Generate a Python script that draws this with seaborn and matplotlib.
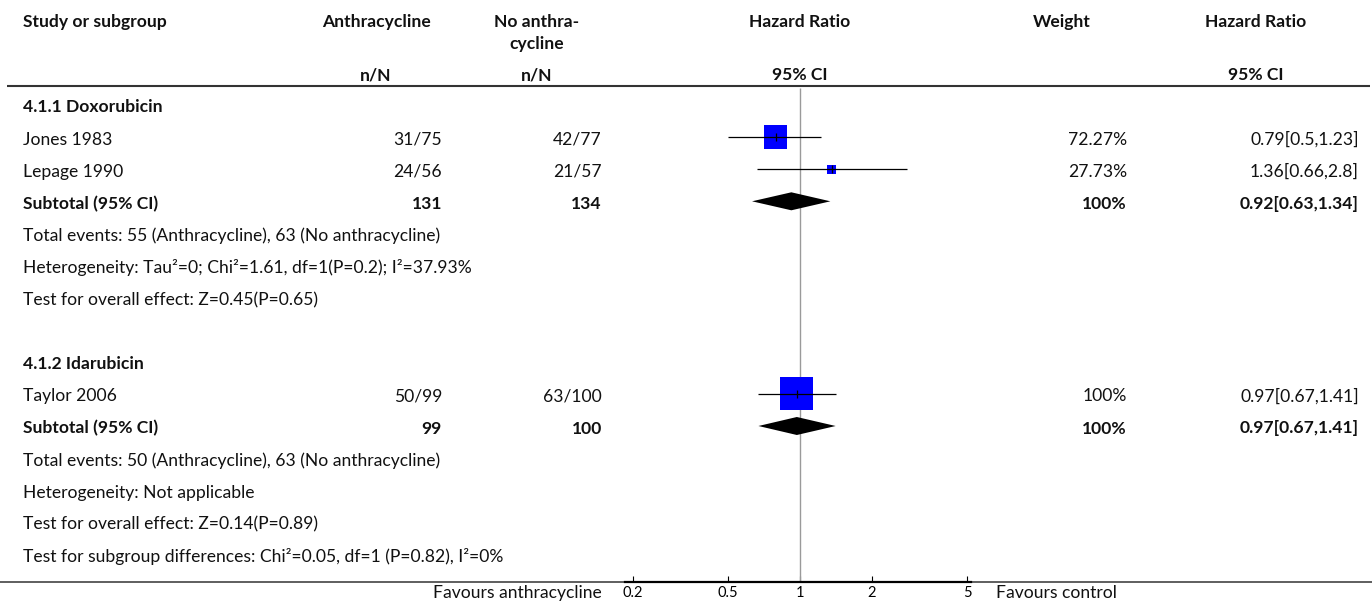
import matplotlib
matplotlib.use("Agg")
import matplotlib.pyplot as plt
import seaborn as sns
import pandas as pd
from matplotlib.ticker import FixedLocator, NullLocator

# study level data
studies = ["Jones 1983", "Lepage 1990", "Taylor 2006"]
study_group = [0, 0, 1]
a_events = [31, 24, 50]
a_total = [75, 56, 99]
c_events = [42, 21, 63]
c_total = [77, 57, 100]
hr = [0.79, 1.36, 0.97]
hr_lo = [0.5, 0.66, 0.67]
hr_hi = [1.23, 2.8, 1.41]
weight = [72.27, 27.73, 100]

# subgroup totals
groups = ["4.1.1 Doxorubicin", "4.1.2 Idarubicin"]
sub_a = [131, 99]
sub_c = [134, 100]
sub_hr = [0.92, 0.97]
sub_lo = [0.63, 0.67]
sub_hi = [1.34, 1.41]
sub_weight = [100, 100]
notes = [
    ["Total events: 55 (Anthracycline), 63 (No anthracycline)",
     "Heterogeneity: Tau\u00b2=0; Chi\u00b2=1.61, df=1(P=0.2); I\u00b2=37.93%",
     "Test for overall effect: Z=0.45(P=0.65)"],
    ["Total events: 50 (Anthracycline), 63 (No anthracycline)",
     "Heterogeneity: Not applicable",
     "Test for overall effect: Z=0.14(P=0.89)"],
]
overall_note = "Test for subgroup differences: Chi\u00b2=0.05, df=1 (P=0.82), I\u00b2=0%"
tick_vals = [0.2, 0.5, 1, 2, 5]
tick_labels = ["0.2", "0.5", "1", "2", "5"]

sns.set_theme(style="white")
plt.rcParams["font.family"] = ["Lato", "DejaVu Sans"]

W, H = 1372, 603
FS = 12.6
TXT = "#111111"

fig = plt.figure(figsize=(W / 100, H / 100), dpi=100)
ax = fig.add_axes([0, 0, 1, 1])
ax.set_xlim(0, W)
ax.set_ylim(H, 0)
ax.axis("off")

# forest axes: log scale, pixel rows shared with ax
x0, x1 = 633, 967
fx = fig.add_axes([x0 / W, 0, (x1 - x0) / W, 1])
fx.set_xscale("log")
fx.set_xlim(0.2, 5)
fx.set_ylim(H, 0)
fx.patch.set_alpha(0)

# column anchors
c_study = 23
c_a, r_a = 376, 442
c_c, r_c = 537, 602
c_fp = 800
c_w, r_w = 1062, 1127
c_hr, r_hr = 1256, 1359


def row_y(i):
    return 105 + 32.1 * i


def txt(x, y, s, ha="left", bold=False, size=FS, off=7.5):
    ax.text(x, y + off, s, ha=ha, va="baseline", fontsize=size,
            fontweight="bold" if bold else "normal", color=TXT)


# header
hb = dict(bold=True, off=0)
txt(c_study, 27, "Study or subgroup", **hb)
txt(c_a, 27, "Anthracycline", ha="center", **hb)
txt(c_c, 27, "No anthra-", ha="center", **hb)
txt(c_c, 49, "cycline", ha="center", **hb)
txt(c_fp, 27, "Hazard Ratio", ha="center", **hb)
txt(c_w, 27, "Weight", ha="center", **hb)
txt(c_hr, 27, "Hazard Ratio", ha="center", **hb)
txt(c_a, 80.5, "n/N", ha="center", **hb)
txt(c_c, 80.5, "n/N", ha="center", **hb)
txt(c_fp, 80.5, "95% CI", ha="center", **hb)
txt(c_hr, 80.5, "95% CI", ha="center", **hb)
ax.plot([7, 1370], [86, 86], color="#333333", lw=1.5, solid_capstyle="butt")

# build row layout
study_rows = []
sub_rows = []
row = 0
for g, name in enumerate(groups):
    txt(c_study, row_y(row), name, bold=True)
    row += 1
    for i, s in enumerate(studies):
        if study_group[i] != g:
            continue
        y = row_y(row)
        study_rows.append(y)
        txt(c_study, y, s)
        txt(r_a, y, f"{a_events[i]}/{a_total[i]}", ha="right")
        txt(r_c, y, f"{c_events[i]}/{c_total[i]}", ha="right")
        txt(r_w, y, f"{weight[i]:g}%", ha="right")
        txt(r_hr, y, f"{hr[i]:g}[{hr_lo[i]:g},{hr_hi[i]:g}]", ha="right")
        row += 1
    y = row_y(row)
    sub_rows.append(y)
    txt(c_study, y, "Subtotal (95% CI)", bold=True)
    txt(r_a, y, f"{sub_a[g]}", ha="right", bold=True)
    txt(r_c, y, f"{sub_c[g]}", ha="right", bold=True)
    txt(r_w, y, f"{sub_weight[g]:g}%", ha="right", bold=True)
    txt(r_hr, y, f"{sub_hr[g]:g}[{sub_lo[g]:g},{sub_hi[g]:g}]", ha="right", bold=True)
    row += 1
    for n in notes[g]:
        txt(c_study, row_y(row), n)
        row += 1
    row += 1
txt(c_study, row_y(row - 1), overall_note)

# reference line
fx.vlines(1, 88, 582, color="#9a9a9a", lw=1.0, zorder=1)

# study squares, then CI lines and point ticks on top
df = pd.DataFrame({"hr": hr, "lo": hr_lo, "hi": hr_hi, "w": weight, "y": study_rows})
sizes = {w: (w * 0.33 * 0.72) ** 2 for w in weight}
sns.scatterplot(data=df, x="hr", y="y", size="w", sizes=sizes, marker="s",
                color="#0000ff", linewidth=0, legend=False, ax=fx, zorder=2)
fx.hlines(df["y"], df["lo"], df["hi"], color="black", lw=0.9, zorder=3)
fx.vlines(df["hr"], df["y"] - 4, df["y"] + 4, color="black", lw=0.9, zorder=4)

# subtotal diamonds
for g in range(len(groups)):
    y = sub_rows[g]
    fx.fill([sub_lo[g], sub_hr[g], sub_hi[g], sub_hr[g]],
            [y, y - 9, y, y + 9], color="black", lw=0, zorder=3)

# bottom axis
ax.plot([0, W], [582, 582], color="#333333", lw=1.1, solid_capstyle="butt")
for side in ["top", "left", "right"]:
    fx.spines[side].set_visible(False)
fx.spines["bottom"].set_position(("data", 582))
fx.spines["bottom"].set_bounds(0.185, 5.2)
fx.spines["bottom"].set_linewidth(1.6)
fx.spines["bottom"].set_color("black")
fx.xaxis.set_major_locator(FixedLocator(tick_vals))
fx.xaxis.set_minor_locator(NullLocator())
fx.set_xticklabels(tick_labels)
fx.set_yticks([])
fx.tick_params(axis="x", direction="in", length=4, width=0.8, pad=3,
               labelsize=10.5, colors="black", bottom=True)
fx.set_xlabel("")
fx.set_ylabel("")

txt(602, 598, "Favours anthracycline", ha="right", off=0)
txt(996, 598, "Favours control", off=0)

fig.savefig("out.png", dpi=100)
